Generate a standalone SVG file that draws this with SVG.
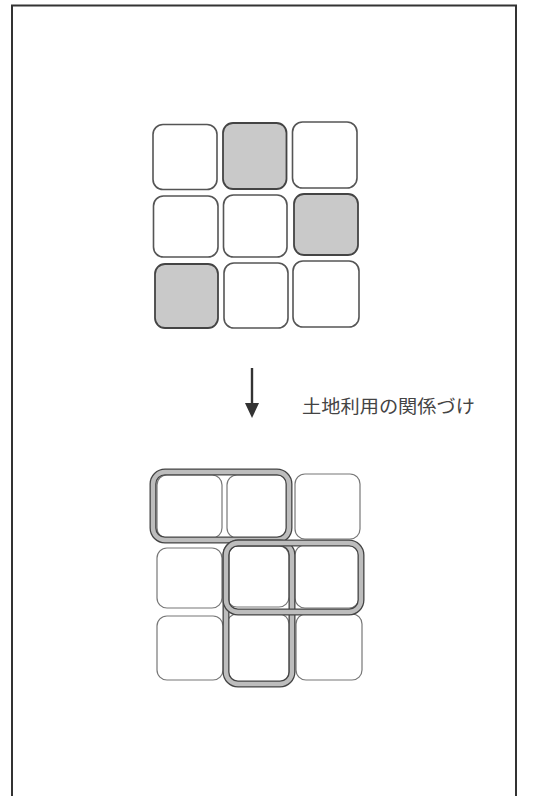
<svg xmlns="http://www.w3.org/2000/svg" width="549" height="796" viewBox="0 0 549 796">
<style>
.c{fill:#fff;stroke:#555;stroke-width:1.6}
.g{fill:#c9c9c9;stroke:#444;stroke-width:1.8}
.b{fill:#fff;stroke:#777;stroke-width:1.2}
.oo{fill:none;stroke:#444;stroke-width:7}
.oi{fill:none;stroke:#bdbdbd;stroke-width:4.4}
.t{font-family:"Noto Sans CJK JP","Noto Sans CJK SC",sans-serif;font-size:18px;fill:#444}
</style>
<rect width="549" height="796" fill="#fff"/>
<path d="M12,796 V5.5 H516 V796" fill="none" stroke="#333" stroke-width="2"/>
<g id="top-grid">
<rect id="t11" class="c" x="153" y="124.5" width="64" height="65" rx="10"/>
<rect id="t12" class="g" x="223" y="123" width="63.5" height="66" rx="10"/>
<rect id="t13" class="c" x="292.5" y="122" width="64.5" height="66" rx="10"/>
<rect id="t21" class="c" x="153.5" y="196" width="64.5" height="61" rx="10"/>
<rect id="t22" class="c" x="223.5" y="195" width="63.5" height="62" rx="10"/>
<rect id="t23" class="g" x="294" y="194" width="64" height="61" rx="10"/>
<rect id="t31" class="g" x="155" y="264" width="63" height="64" rx="10"/>
<rect id="t32" class="c" x="224" y="263" width="64" height="65" rx="10"/>
<rect id="t33" class="c" x="293" y="261" width="66" height="66" rx="10"/>
</g>
<g id="arrow">
<line x1="252" y1="368" x2="252" y2="404" stroke="#333" stroke-width="2.4"/>
<polygon points="245,403 259,403 252,418" fill="#333"/>
</g>
<g id="label">
<text class="t" x="302" y="413" textLength="173" lengthAdjust="spacingAndGlyphs">土地利用の関係づけ</text>
</g>
<g id="bottom-grid">
<rect id="b11" class="b" x="157" y="475" width="65" height="63" rx="10"/>
<rect id="b12" class="b" x="227" y="475" width="61" height="63" rx="10"/>
<rect id="b13" class="b" x="295" y="474" width="65" height="65" rx="10"/>
<rect id="b21" class="b" x="157" y="548" width="65" height="60" rx="10"/>
<rect id="b22" class="b" x="227" y="546" width="62" height="61" rx="10"/>
<rect id="b23" class="b" x="295" y="545" width="64" height="63" rx="10"/>
<rect id="b31" class="b" x="157" y="616" width="66" height="64" rx="10"/>
<rect id="b32" class="b" x="227" y="614" width="62" height="68" rx="10"/>
<rect id="b33" class="b" x="296" y="614" width="66" height="66" rx="10"/>
</g>
<g id="connectors">
<g id="group-a">
<rect class="oo" x="153" y="472" width="136" height="68" rx="12"/>
<rect class="oi" x="153" y="472" width="136" height="68" rx="12"/>
</g>
<g id="group-b">
<rect class="oo" x="226" y="543" width="66" height="141" rx="12"/>
<rect class="oi" x="226" y="543" width="66" height="141" rx="12"/>
</g>
<g id="group-c">
<rect class="oo" x="226" y="543" width="135" height="69" rx="12"/>
<rect class="oi" x="226" y="543" width="135" height="69" rx="12"/>
</g>
</g>
</svg>
